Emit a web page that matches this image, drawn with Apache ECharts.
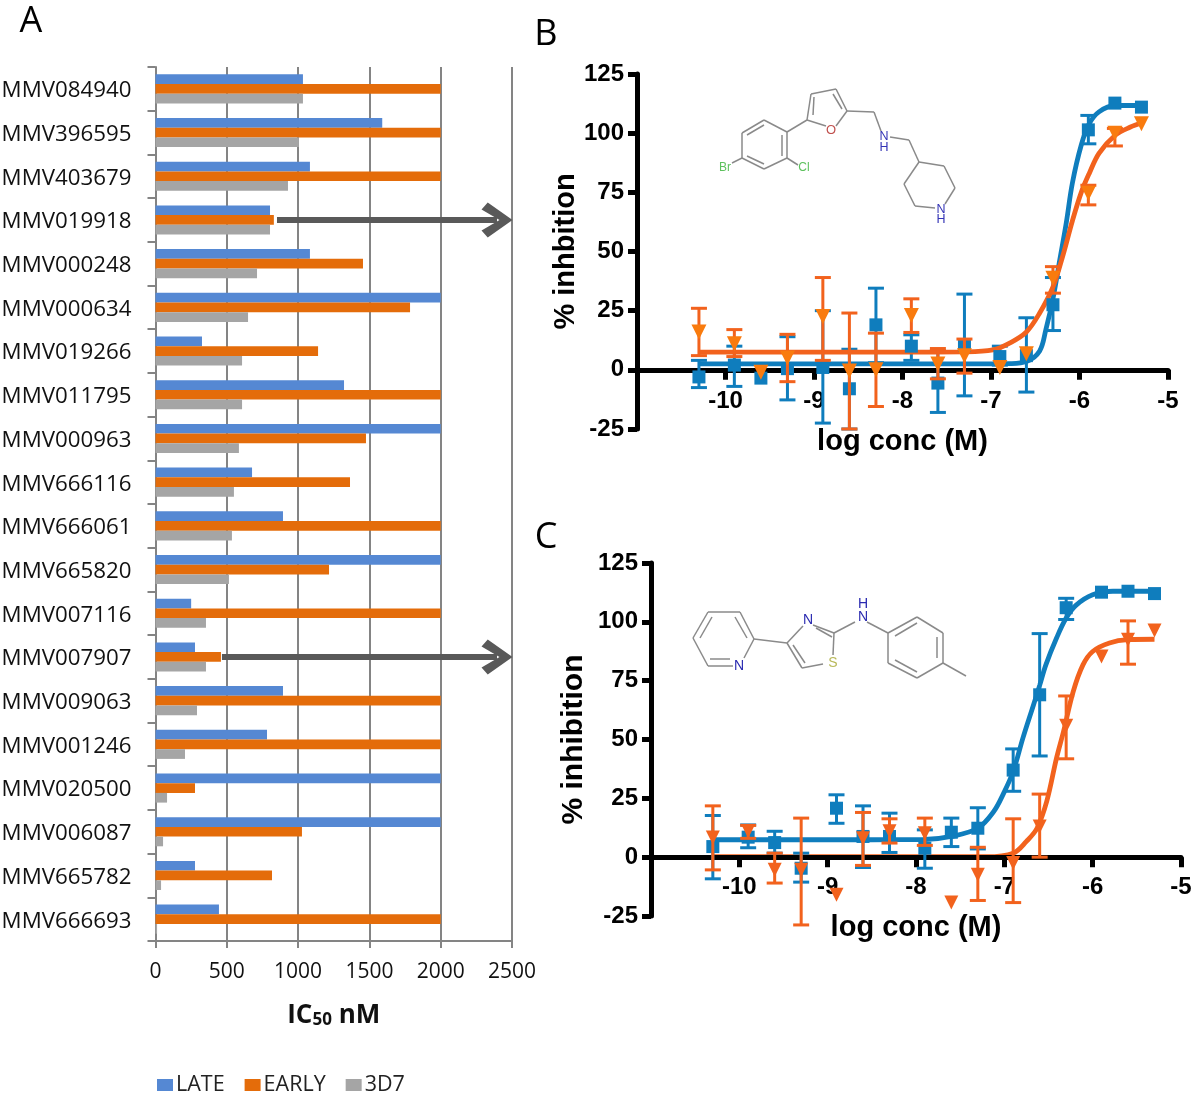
<!DOCTYPE html>
<html><head><meta charset="utf-8">
<style>html,body{margin:0;padding:0;background:#fff}#c{width:1200px;height:1094px}</style>
<script src="https://cdn.jsdelivr.net/npm/echarts@6/dist/echarts.min.js"></script>
</head><body><div id="c"></div>
<script>
const compounds=['MMV084940','MMV396595','MMV403679','MMV019918','MMV000248','MMV000634','MMV019266','MMV011795','MMV000963','MMV666116','MMV666061','MMV665820','MMV007116','MMV007907','MMV009063','MMV001246','MMV020500','MMV006087','MMV665782','MMV666693'];
const late=[1034,1590,1083,803,1083,2000,326,1322,2000,677,894,2000,250,277,894,782,2000,2000,277,445];
const early=[2000,2000,2000,830,1455,1785,1140,2000,1476,1364,2000,1217,2000,459,2000,2000,277,1027,817,2000];
const d3d7=[1034,1006,929,803,712,649,607,607,585,550,536,515,354,354,291,207,81,53,39,11];

const logConc=[-10.3,-9.9,-9.6,-9.3,-8.9,-8.6,-8.3,-7.9,-7.6,-7.3,-6.9,-6.6,-6.3,-5.9,-5.6,-5.3];

const bBlueMean=[-3,2,-3.5,0.5,1,-8,19,10,-5.6,10.5,5.6,6,27.5,101.4,112.7,111];
const bBlueLow=[-7.5,-7,null,-12.7,-22.5,-25,3,4,-18,-11,2,-9.4,16.6,95.5,null,null];
const bBlueHigh=[4,10,null,14,25,8.7,34.5,14.8,8,32,10,22,39,107.5,null,null];
const bOrangeMean=[16,11,-1,5,22.5,-0.5,0,23,2.5,6,1,6.8,38.7,74.6,100,104];
const bOrangeLow=[6,5.6,null,-5,4,-25,-15.5,15.8,-3.8,-1.4,null,null,32.4,69.7,94.6,null];
const bOrangeHigh=[26,17,null,15,39,24,15.5,30,9,13,null,null,43.6,78,102,null];
const bBlueCurveX=[-10.3,-8,-7,-6.8,-6.6,-6.45,-6.38,-6.3,-6.23,-6.15,-6.08,-5.98,-5.89,-5.78,-5.6,-5.3];
const bBlueCurveY=[2.5,2.5,2.5,2.6,3.5,8,17,30,45,62,79,95,104,109,111.7,111.7];
const bOrangeCurveX=[-10.3,-8,-7.3,-6.98,-6.79,-6.6,-6.45,-6.3,-6.19,-6.08,-5.98,-5.89,-5.78,-5.6,-5.43,-5.28];
const bOrangeCurveY=[7.5,7.5,7.6,8.4,11.3,16,24,35,48,63,75,83,91.5,99,102.5,104.5];

const cBlueMean=[4.5,8.5,6.2,-4.7,20.8,8.8,8.8,3.8,10.6,12.3,37,69,106,112.6,113,112];
const cBlueLow=[-9.2,4,1.7,-10.6,14.4,-4.4,2,-4.7,4.5,3.5,28,43,101,null,null,null];
const cBlueHigh=[17.7,13.7,11,1.7,26.5,21.8,18.7,11.6,16.6,21,46,95,110,null,null,null];
const cOrangeMean=[8.4,11,-5.4,-5.4,-16,8,11,10.2,-19.3,-7.5,-2.5,13,55.8,85.3,92.4,96.3];
const cOrangeLow=[-5.4,8,-11,-28.8,null,-3.5,6,5,null,-18.4,-19.3,0,41.8,null,82,null];
const cOrangeHigh=[21.8,13.5,1.7,16.6,null,19,16.3,16.6,null,4.2,16.3,26.8,68.5,null,100.4,null];
const cBlueCurveX=[-10.3,-8.5,-7.9,-7.6,-7.3,-7.12,-7.01,-6.9,-6.79,-6.67,-6.6,-6.53,-6.41,-6.3,-6.19,-6,-5.77,-5.3];
const cBlueCurveY=[7.4,7.4,7.5,8.8,12.3,19.4,27,36.4,50.6,64.7,73,81.7,93,101.6,107,111.5,113,113];
const cOrangeCurveX=[-10.3,-8,-7.2,-6.9,-6.75,-6.63,-6.52,-6.41,-6.33,-6.22,-6.11,-6,-5.81,-5.6,-5.3];
const cOrangeCurveY=[0.2,0.2,0.2,1.7,6.7,12.3,23.7,42,53.4,70.4,81.7,87.4,91,92.4,92.6];

const BLUE='#0F7DBD', ORANGE='#F2621D', TRI='#F97B0E';
const SANS='"Liberation Sans",Arial,sans-serif', OPEN='"Open Sans",sans-serif';
const zip=(a,b)=>a.map((v,i)=>[v,b[i]]);

function errSeries(gridIdx,low,high,color,z){
  const data=logConc.map((x,i)=>[x,low[i],high[i]]).filter(r=>r[1]!==null);
  return {type:'custom',xAxisIndex:gridIdx,yAxisIndex:gridIdx,z,silent:true,animation:false,data,encode:{x:0,y:[1,2]},
    renderItem(p,api){
      const a=api.coord([api.value(0),api.value(1)]),b=api.coord([api.value(0),api.value(2)]);
      const s={stroke:color,lineWidth:3,fill:null};
      return {type:'group',children:[
        {type:'line',shape:{x1:a[0],y1:a[1],x2:b[0],y2:b[1]},style:s},
        {type:'line',shape:{x1:a[0]-8,y1:a[1],x2:a[0]+8,y2:a[1]},style:s},
        {type:'line',shape:{x1:b[0]-8,y1:b[1],x2:b[0]+8,y2:b[1]},style:s}]};
    }};
}
const curve=(g,x,y,color,z)=>({type:'line',xAxisIndex:g,yAxisIndex:g,z,data:zip(x,y),showSymbol:false,smooth:0.35,lineStyle:{color,width:4.8},silent:true,animation:false});
const points=(g,y,symbol,color,z,size,rot)=>({type:'scatter',xAxisIndex:g,yAxisIndex:g,z,data:zip(logConc,y),symbol,symbolSize:size,symbolRotate:rot||0,itemStyle:{color,opacity:1},silent:true,animation:false});

const BK='#000';
const doseX=(g,name,labelMargin,nameGap)=>({gridIndex:g,type:'value',min:-11,max:-5,interval:1,z:2,
  axisLine:{onZero:true,lineStyle:{color:BK,width:5}},axisTick:{length:10,lineStyle:{color:BK,width:5}},splitLine:{show:false},
  axisLabel:{show:true,margin:labelMargin,color:BK,fontFamily:SANS,fontWeight:'bold',fontSize:24,showMinLabel:false},
  name,nameLocation:'middle',nameGap,nameTextStyle:{color:BK,fontFamily:SANS,fontWeight:'bold',fontSize:29}});
const doseY=(g,name,gap,size)=>({gridIndex:g,type:'value',min:-25,max:125,interval:25,z:2,
  axisLine:{show:true,onZero:false,lineStyle:{color:BK,width:5}},axisTick:{show:true,length:9,lineStyle:{color:BK,width:5}},splitLine:{show:false},
  axisLabel:{margin:13,color:BK,fontFamily:SANS,fontWeight:'bold',fontSize:24},
  name,nameLocation:'middle',nameRotate:90,nameGap:gap,nameTextStyle:{color:BK,fontFamily:SANS,fontWeight:'bold',fontSize:size}});

const CHEVRON='path://M50 0 L100 80 L80 100 L50 42 L20 100 L0 80 Z';
const arrow=(from,cat)=>[{coord:[from,cat]},{coord:[2395,cat]}];

// structure drawings: [x1,y1,x2,y2] bonds
const molB=[[742,133,764,120],[764,120,787,132],[787,132,787,158],[787,158,764,169],[764,169,742,158],[742,158,742,133],[747,135,764,125],[782,135,782,156],[747,156,764,164],[742,158,732,163],[787,158,798,165],[787,132,807,120],[807,120,811,94],[811,94,836,89],[836,89,847,111],[814,97,813,115],[833,94,842,109],[807,120,826,126],[836,126,847,111],[847,111,874,112],[874,112,881,131],[890,137,909,140],[909,140,919,162],[919,162,944,166],[944,166,955,188],[955,188,945,204],[915,206,935,208],[915,206,904,184],[904,184,919,162]];
const molC=[[693,638,708,612],[708,612,740,612],[740,612,754,639],[754,639,744,658],[733,666,708,666],[708,666,693,638],[700,638,712,617],[735,617,747,638],[710,659,730,659],[754,639,787,643],[787,643,803,626],[813,625,834,633],[834,633,833,655],[787,643,802,668],[802,668,823,664],[793,645,805,663],[816,628,832,637],[834,633,855,622],[867,622,888,633],[888,633,917,617],[917,617,943,633],[943,633,943,663],[943,663,917,678],[917,678,888,663],[888,663,888,633],[895,636,917,623],[937,637,937,658],[895,660,917,672],[943,663,966,676]];
const atoms=[['Br',725,168,'#5DC15D',12],['Cl',804,168,'#5DC15D',12],['O',831,130,'#C0504D',13],['N',884,137,'#3333B5',12.5],['H',884,148,'#3333B5',12.5],['N',941,210,'#3333B5',12.5],['H',941,220,'#3333B5',12.5],
 ['N',739,666,'#2A2AB0',14],['N',808,620,'#2A2AB0',14],['S',833,663,'#B9B95A',14],['N',863,617,'#2A2AB0',14],['H',863,604,'#2A2AB0',14]];
const graphics=[...molB,...molC].map(b=>({type:'line',silent:true,shape:{x1:b[0],y1:b[1],x2:b[2],y2:b[3]},style:{stroke:'#8A8A8A',lineWidth:1.5}}))
 .concat(atoms.map(a=>({type:'text',silent:true,x:a[1],y:a[2],style:{text:a[0],fill:a[3],font:a[4]+'px '+SANS,textAlign:'center',textVerticalAlign:'middle'}})));

const letters=[['A',31,22],['B',546,35],['C',546,538]].map(l=>({type:'text',silent:true,x:l[1],y:l[2],style:{text:l[0],fill:'#000',font:'36px '+OPEN,textAlign:'center',textVerticalAlign:'middle'}}));

const option={animation:false,backgroundColor:'#fff',
 legend:{left:152,top:1069,itemWidth:16,itemHeight:12,itemGap:20,data:['LATE','EARLY','3D7'],icon:'rect',textStyle:{fontFamily:OPEN,fontSize:21.5,color:'#222',padding:[0,0,0,-2]}},
 grid:[{left:155.5,top:67,width:356.5,height:874,outerBoundsMode:'none'},{left:637,top:74,width:531,height:355,outerBoundsMode:'none'},{left:651,top:563,width:530,height:353,outerBoundsMode:'none'}],
 xAxis:[{gridIndex:0,type:'value',min:0,max:2500,interval:500,position:'bottom',
   axisLine:{show:true,onZero:false,lineStyle:{color:'#848484',width:2}},axisTick:{show:true,length:7,lineStyle:{color:'#848484',width:2}},splitLine:{show:true,lineStyle:{color:'#848484',width:2}},
   axisLabel:{margin:21,color:'#111',fontFamily:OPEN,fontSize:21,formatter:v=>String(v)},
   name:'IC{s|50} nM',nameLocation:'middle',nameGap:62,nameTextStyle:{fontFamily:OPEN,fontWeight:'bold',fontSize:26,color:'#111',rich:{s:{fontFamily:OPEN,fontWeight:'bold',fontSize:17,color:'#111',padding:[9,0,0,0]}}}},
  doseX(1,'log conc (M)',-40,-2),doseX(2,'log conc (M)',-41,-3)],
 yAxis:[{gridIndex:0,type:'category',data:compounds,inverse:true,
   axisLine:{show:true,lineStyle:{color:'#848484',width:2}},axisTick:{show:true,length:8,lineStyle:{color:'#848484',width:2}},
   axisLabel:{margin:24,color:'#111',fontFamily:OPEN,fontSize:22.3,verticalAlign:'top',lineHeight:4}},
  doseY(1,'% inhbition',56,29),doseY(2,'% inhibition',62,30)],
 series:[
  {name:'LATE',type:'bar',xAxisIndex:0,yAxisIndex:0,data:late,barWidth:9.7,barGap:0,itemStyle:{color:'#5588D3'}},
  {name:'EARLY',type:'bar',xAxisIndex:0,yAxisIndex:0,data:early,barWidth:9.7,itemStyle:{color:'#E46C0A'},
    markLine:{silent:true,animation:false,symbol:['none',CHEVRON],symbolSize:[35,31],label:{show:false},lineStyle:{color:'#595959',width:6,type:'solid'},
      data:[arrow(852,'MMV019918'),arrow(466,'MMV007907')]}},
  {name:'3D7',type:'bar',xAxisIndex:0,yAxisIndex:0,data:d3d7,barWidth:9.7,itemStyle:{color:'#A5A5A5'}},
  curve(1,bBlueCurveX,bBlueCurveY,BLUE,1),
  errSeries(1,bBlueLow,bBlueHigh,BLUE,3),points(1,bBlueMean,'rect',BLUE,3,13),
  curve(1,bOrangeCurveX,bOrangeCurveY,ORANGE,3),
  errSeries(1,bOrangeLow,bOrangeHigh,ORANGE,4),points(1,bOrangeMean,'triangle',TRI,5,15,180),
  curve(2,cBlueCurveX,cBlueCurveY,BLUE,3),
  errSeries(2,cBlueLow,cBlueHigh,BLUE,3),points(2,cBlueMean,'rect',BLUE,3,13),
  curve(2,cOrangeCurveX,cOrangeCurveY,ORANGE,1),
  errSeries(2,cOrangeLow,cOrangeHigh,ORANGE,4),points(2,cOrangeMean,'triangle',ORANGE,5,14,180)
 ],
 graphic:{elements:[...graphics,...letters]}
};
const chart=echarts.init(document.getElementById('c'),null,{renderer:'canvas'});
chart.setOption(option);
</script></body></html>
